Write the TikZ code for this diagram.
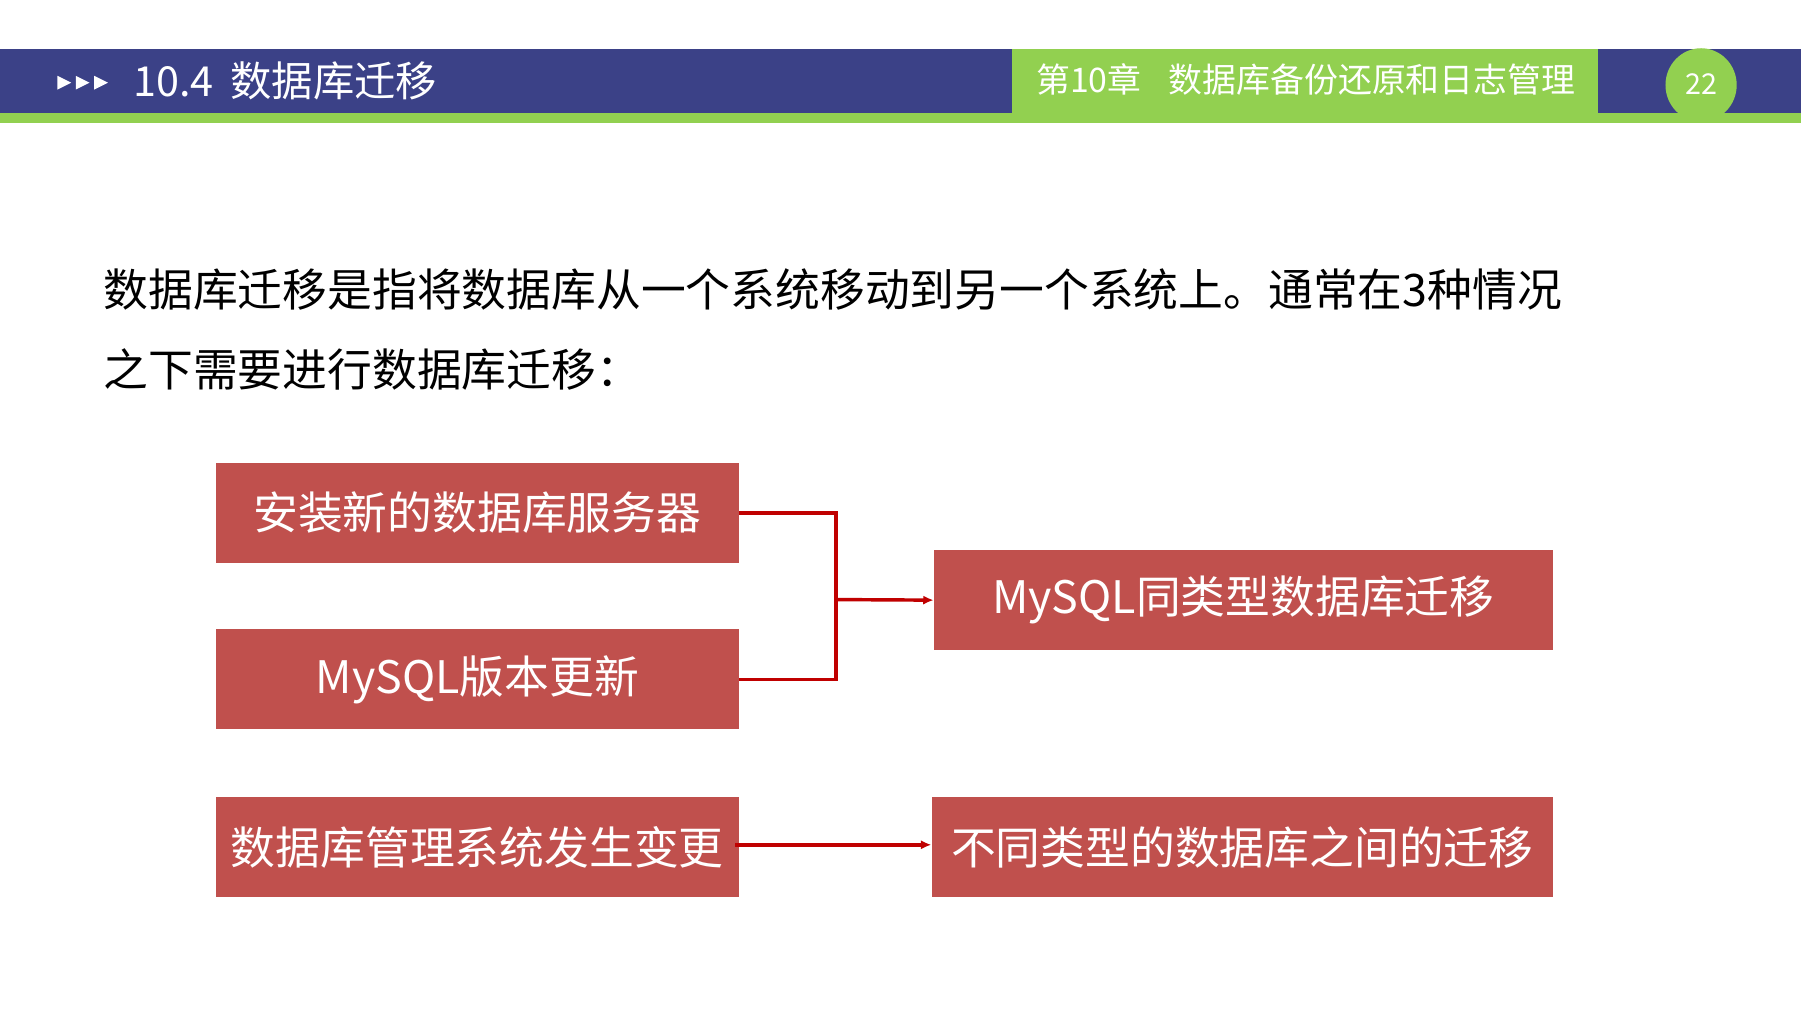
\documentclass[tikz,border=0pt]{standalone}
\usepackage{fontspec}
\setmainfont{Noto Sans CJK SC}
\begin{document}
\begin{tikzpicture}[x=1pt,y=-1pt,
  box/.style={fill=boxred,draw=none,text=white,font=\fontsize{39}{43}\selectfont,inner sep=0pt},
  conn/.style={draw=linered,line width=3pt},
  arr/.style={conn,-{Latex[length=9pt,width=8pt]}}]
\usetikzlibrary{arrows.meta}
\definecolor{navy}{HTML}{3B4187}
\definecolor{lgreen}{HTML}{92D050}
\definecolor{boxred}{HTML}{C0504D}
\definecolor{linered}{HTML}{C00000}
\useasboundingbox (0,0) rectangle (1568,882);
\fill[white] (0,0) rectangle (1568,882);
\fill[lgreen] (0,98) rectangle (1568,107);
\fill[navy] (0,43) rectangle (1568,98);
\fill[lgreen] (881,43) rectangle (1391,107);
\fill[lgreen] (1481,74) ellipse [x radius=31, y radius=32];
\foreach \i in {0,1,2} \fill[white] (50+16*\i,66) -- (62+16*\i,72) -- (50+16*\i,78) -- cycle;
\node[anchor=west,text=white,font=\fontsize{36}{40}\selectfont,inner sep=0pt] (t) at (116,70) {10.4\hspace{0.4em}数据库迁移};
\node[anchor=west,text=white,font=\fontsize{29.5}{33}\selectfont,inner sep=0pt] (c) at (902,69) {第10章\hspace{0.8em}数据库备份还原和日志管理};
\node[text=white,font=\fontsize{25}{28}\selectfont,inner sep=0pt] (p) at (1481,73) {22};
\node[anchor=west,font=\fontsize{39}{43}\selectfont,inner sep=0pt] (l1) at (90,252) {数据库迁移是指将数据库从一个系统移动到另一个系统上。通常在3种情况};
\node[anchor=west,font=\fontsize{39}{43}\selectfont,inner sep=0pt] (l2) at (90,322) {之下需要进行数据库迁移：};
\node[box,minimum width=455pt,minimum height=87pt] (a) at (415.5,446.5) {安装新的数据库服务器};
\node[box,minimum width=455pt,minimum height=87pt] (b) at (415.5,591.5) {MySQL版本更新};
\node[box,minimum width=455pt,minimum height=87pt] (d) at (415.5,737.5) {数据库管理系统发生变更};
\node[box,minimum width=539pt,minimum height=87pt] (e) at (1082.5,522.5) {MySQL同类型数据库迁移};
\node[box,minimum width=541pt,minimum height=87pt] (f) at (1081.5,737.5) {不同类型的数据库之间的迁移};
\coordinate (j) at (728,522);
\draw[conn] (a.east) -- (728,446.5) -- (728,591.5) -- (b.east);
\draw[arr] (j) -- (e.west);
\draw[arr] ([xshift=-3pt,yshift=2pt]d.east) -- ([yshift=2pt]f.west);
\end{tikzpicture}
\end{document}
